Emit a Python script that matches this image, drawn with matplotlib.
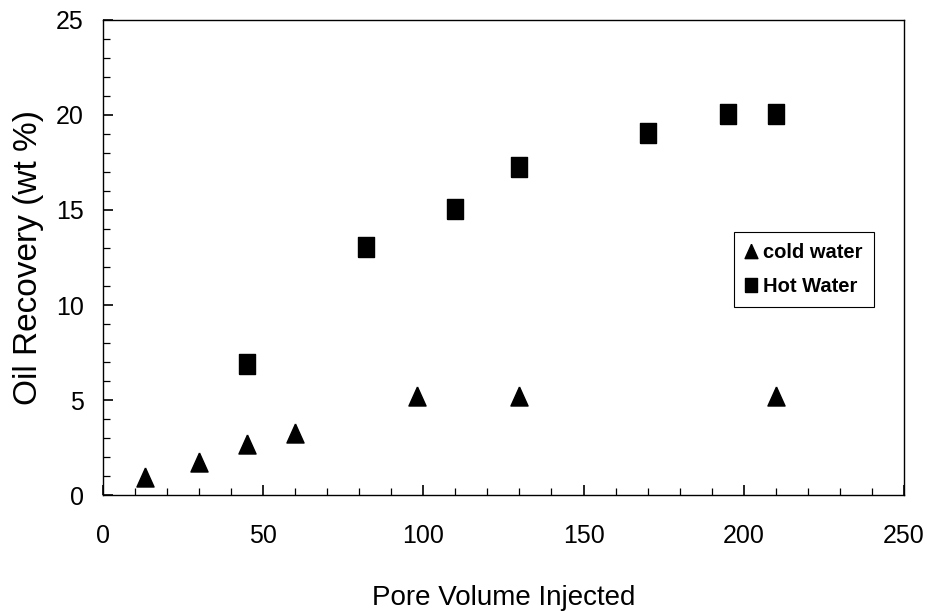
import matplotlib.pyplot as plt
from matplotlib.ticker import MultipleLocator

plt.rcParams['font.family'] = ['Liberation Sans', 'DejaVu Sans']

# cold water data
cold_pv = [13, 30, 45, 60, 98, 130, 210]
cold_rec = [0.95, 1.75, 2.7, 3.25, 5.2, 5.2, 5.2]

# hot water data
hot_pv = [45, 82, 110, 130, 170, 195, 210]
hot_rec = [6.9, 13.05, 15.05, 17.25, 19.05, 20.05, 20.05]

fig = plt.figure(figsize=(9.28, 6.16), dpi=100)
ax = fig.add_axes([0.111, 0.196, 0.863, 0.772])

# markers are a bit taller than wide in the original
tri = [(0, 0.5), (-0.45, -0.5), (0.45, -0.5), (0, 0.5)]
rect = [(-0.42, -0.5), (0.42, -0.5), (0.42, 0.5), (-0.42, 0.5), (-0.42, -0.5)]
ax.plot(cold_pv, cold_rec, linestyle='none', marker=tri, markersize=13.7,
        color='black', label='cold water')
ax.plot(hot_pv, hot_rec, linestyle='none', marker=rect, markersize=13.7,
        color='black', label='Hot Water')

ax.set_xlim(0, 250)
ax.set_ylim(0, 25)
ax.xaxis.set_major_locator(MultipleLocator(50))
ax.xaxis.set_minor_locator(MultipleLocator(10))
ax.yaxis.set_major_locator(MultipleLocator(5))
ax.yaxis.set_minor_locator(MultipleLocator(1))
ax.tick_params(which='both', direction='in', labelsize=18)
ax.tick_params(which='major', length=7, width=1.2)
ax.tick_params(which='minor', length=5, width=0.9)
ax.tick_params(axis='x', which='major', pad=21)
ax.tick_params(axis='y', which='major', pad=14)
for s in ax.spines.values():
    s.set_linewidth(1.0)

ax.set_xlabel('Pore Volume Injected', fontsize=20)
ax.set_ylabel('Oil Recovery (wt %)', fontsize=24)
ax.xaxis.set_label_coords(0.5, -0.188)
ax.yaxis.set_label_coords(-0.074, 0.5)

leg = ax.legend(loc='upper left', bbox_to_anchor=(0.788, 0.554), fancybox=False,
                edgecolor='black', framealpha=1, handlelength=0.6,
                handletextpad=0.3, borderpad=0.55, labelspacing=0.75,
                borderaxespad=0, prop={'weight': 'bold', 'size': 14.5},
                markerscale=0.75)
leg.get_frame().set_linewidth(0.8)

fig.savefig('out.png', dpi=100)
